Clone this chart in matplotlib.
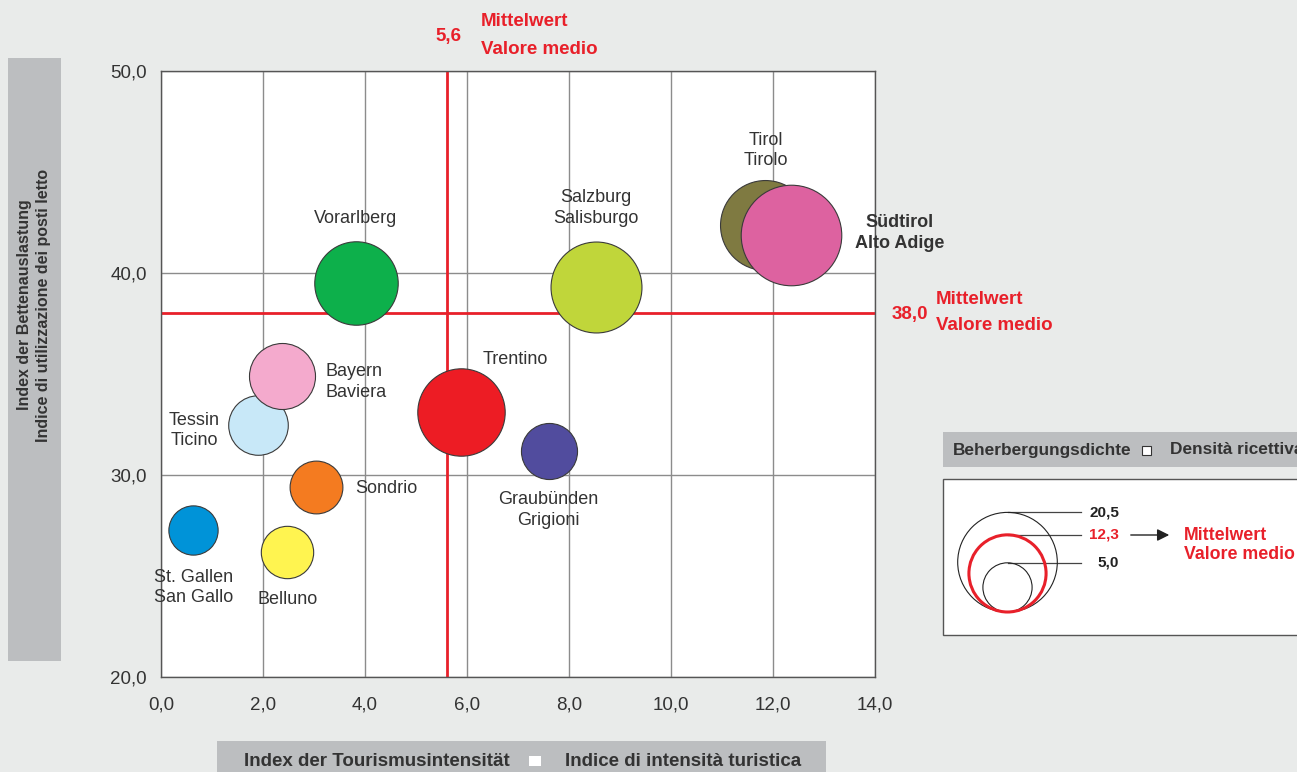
import numpy as np
import matplotlib
matplotlib.use('Agg')
import matplotlib.pyplot as plt
from matplotlib.patches import Circle, Rectangle

plt.rcParams['font.family'] = ['Liberation Sans', 'DejaVu Sans']

# Data
regions = ['St. Gallen\nSan Gallo', 'Belluno', 'Sondrio', 'Tessin\nTicino', 'Bayern\nBaviera',
           'Vorarlberg', 'Trentino', 'Graubünden\nGrigioni', 'Salzburg\nSalisburgo',
           'Tirol\nTirolo', 'Südtirol\nAlto Adige']
tourism_index = [0.63, 2.48, 3.03, 1.91, 2.37, 3.82, 5.88, 7.60, 8.53, 11.84, 12.36]
bed_occupancy = [27.3, 26.2, 29.4, 32.5, 34.9, 39.5, 33.1, 31.2, 39.3, 42.4, 41.9]
bed_density = [5.4, 6.1, 6.2, 7.9, 9.7, 15.5, 17.0, 7.0, 18.4, 18.0, 22.5]
colors = ['#0093d8', '#fff450', '#f47b20', '#c8e8f8', '#f4aacd',
          '#0db04b', '#ed1c24', '#514c9e', '#c0d63a', '#7f7a41', '#dd62a0']

mean_x = 5.6
mean_y = 38.0
legend_values = [20.5, 12.3, 5.0]
legend_mean = 12.3

xticks = np.arange(0, 15, 2)
yticks = np.arange(20, 51, 10)

# label placement: offset in pixels from bubble centre, alignment, bold
label_style = {
    'St. Gallen\nSan Gallo': ((0, -58), 'center', False),
    'Belluno': ((0, -48), 'center', False),
    'Sondrio': ((40, -1), 'left', False),
    'Tessin\nTicino': ((-64, -6), 'center', False),
    'Bayern\nBaviera': ((44, -6), 'left', False),
    'Vorarlberg': ((0, 65), 'center', False),
    'Trentino': ((54, 53), 'center', False),
    'Graubünden\nGrigioni': ((0, -59), 'center', False),
    'Salzburg\nSalisburgo': ((0, 79), 'center', False),
    'Tirol\nTirolo': ((1, 74), 'center', False),
    'Südtirol\nAlto Adige': ((108, 2), 'center', True),
}

BG = '#e9ebea'
RED = '#e8202a'
TXT = '#333333'
BOX = '#bcbec0'
K = 10.6       # bubble radius in px per sqrt(density)
K_LEG = 11.0   # legend circles are drawn a touch larger in the original

W, H = 1297, 772
fig = plt.figure(figsize=(W / 100, H / 100), dpi=100)
fig.patch.set_facecolor(BG)

# overlay in pixel coordinates for boxes and notes
ov = fig.add_axes([0, 0, 1, 1], zorder=0)
ov.set_xlim(0, W)
ov.set_ylim(H, 0)
ov.set_facecolor('none')
ov.axis('off')

ax = fig.add_axes([161 / W, (H - 677) / H, 714 / W, 606 / H], zorder=1)
ax.set_xlim(0, 14)
ax.set_ylim(20, 50)
ax.set_facecolor('white')
ax.set_xticks(xticks)
ax.set_yticks(yticks)
ax.set_xticklabels([f'{v:.1f}'.replace('.', ',') for v in xticks], fontsize=13.5, color=TXT)
ax.set_yticklabels([f'{v:.1f}'.replace('.', ',') for v in yticks], fontsize=13.5, color=TXT)
ax.tick_params(axis='x', length=0, pad=14)
ax.tick_params(axis='y', length=0, pad=10)
ax.grid(True, color='#8c8c8c', linewidth=1.0, zorder=0)
ax.set_axisbelow(True)
for s in ax.spines.values():
    s.set_color('#555555')
    s.set_linewidth(1.0)

ax.axvline(mean_x, color=RED, linewidth=2.0, zorder=1)
ax.axhline(mean_y, color=RED, linewidth=2.0, zorder=1)

sizes = [(1.44 * K) ** 2 * v for v in bed_density]
for i in range(len(regions)):
    ax.scatter(tourism_index[i], bed_occupancy[i], s=sizes[i], color=colors[i],
               edgecolor='#3a3a3a', linewidth=0.8, zorder=3 + i)
    off, ha, bold = label_style[regions[i]]
    ax.annotate(regions[i], (tourism_index[i], bed_occupancy[i]), xytext=off,
                textcoords='offset pixels', ha=ha, va='center', fontsize=13,
                color=TXT, fontweight='bold' if bold else 'normal',
                linespacing=1.3, zorder=20, annotation_clip=False)

# mean annotations
ov.text(461, 36, f'{mean_x:.1f}'.replace('.', ','), color=RED, fontsize=13.5,
        fontweight='bold', ha='right', va='center')
ov.text(481, 22, 'Mittelwert', color=RED, fontsize=13.5, fontweight='bold', va='center')
ov.text(481, 49, 'Valore medio', color=RED, fontsize=13.5, fontweight='bold', va='center')
ov.text(928, 314, f'{mean_y:.1f}'.replace('.', ','), color=RED, fontsize=13.5,
        fontweight='bold', ha='right', va='center')
ov.text(936, 300, 'Mittelwert', color=RED, fontsize=13.5, fontweight='bold', va='center')
ov.text(936, 325, 'Valore medio', color=RED, fontsize=13.5, fontweight='bold', va='center')

# y axis title box
ov.add_patch(Rectangle((8, 58), 53, 603, color=BOX, lw=0))
ov.text(34, 305, 'Index der Bettenauslastung\nIndice di utilizzazione dei posti letto',
        rotation=90, ha='center', va='center', fontsize=11.5, fontweight='bold',
        color=TXT, linespacing=1.35)

# x axis title box
ov.add_patch(Rectangle((217, 741), 609, 31, color=BOX, lw=0))
ov.text(377, 762, 'Index der Tourismusintensität', ha='center', va='center',
        fontsize=13.5, fontweight='bold', color=TXT)
ov.add_patch(Rectangle((529, 756), 12, 10, color='white', lw=0))
ov.text(683, 762, 'Indice di intensità turistica', ha='center', va='center',
        fontsize=13.5, fontweight='bold', color=TXT)

# bubble size legend
ov.add_patch(Rectangle((943, 432), 360, 35, color=BOX, lw=0))
ov.text(953, 450, 'Beherbergungsdichte', ha='left', va='center', fontsize=12.4,
        fontweight='bold', color=TXT)
ov.add_patch(Rectangle((1142, 446), 9, 9, facecolor='white', edgecolor='#333333', lw=0.8))
ov.text(1170, 450, 'Densità ricettiva', ha='left', va='center', fontsize=12.4,
        fontweight='bold', color=TXT)
ov.add_patch(Rectangle((943, 479), 370, 156, facecolor='white', edgecolor='#555555', lw=1.0))

cx, bottom = 1007.5, 612
for v in legend_values:
    r = K_LEG * np.sqrt(v)
    is_mean = v == legend_mean
    ov.add_patch(Circle((cx, bottom - r), r, facecolor='none',
                        edgecolor=RED if is_mean else '#222222',
                        lw=2.2 if is_mean else 0.8, zorder=3 if is_mean else 2))
for v in legend_values:
    top = bottom - 2 * K_LEG * np.sqrt(v)
    ov.plot([cx, 1081], [top, top], color='#444444', lw=0.9, zorder=1)
    ov.text(1119, top, f'{v:.1f}'.replace('.', ','), ha='right', va='center', fontsize=11,
            fontweight='bold', color=RED if v == legend_mean else '#222222')
ov.annotate('', xy=(1172, 535), xytext=(1128, 535),
            arrowprops=dict(arrowstyle='-|>', color='#222222', lw=1.0, mutation_scale=18))
ov.text(1184, 545, 'Mittelwert\nValore medio', ha='left', va='center', fontsize=12.8,
        fontweight='bold', color=RED, linespacing=1.15)

plt.savefig('out.png', dpi=100, facecolor=BG)
